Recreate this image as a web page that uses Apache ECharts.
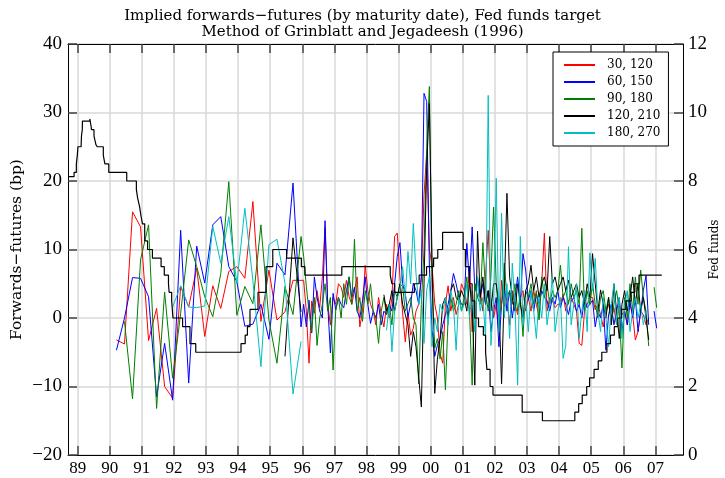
<!DOCTYPE html>
<html>
<head>
<meta charset="utf-8">
<script src="https://cdn.jsdelivr.net/npm/echarts@6/dist/echarts.min.js"></script>
<style>
html,body{margin:0;padding:0;background:#fff;overflow:hidden;}
#chart{width:725px;height:478px;}
</style>
</head>
<body>
<div id="chart"></div>
<script>
// ---------- DATA ----------
const xTickYears = [1989,1990,1991,1992,1993,1994,1995,1996,1997,1998,1999,2000,2001,2002,2003,2004,2005,2006,2007];
const xTickLabels = ['89','90','91','92','93','94','95','96','97','98','99','00','01','02','03','04','05','06','07'];
const seriesNames = ['30, 120','60, 150','90, 180','120, 210','180, 270'];

// quarterly observation dates (decimal years) 1990-1995
const qDates = [1990.21,1990.46,1990.71,1990.96,1991.21,1991.46,1991.71,1991.96,1992.21,1992.46,1992.71,1992.96,
                1993.21,1993.46,1993.71,1993.96,1994.21,1994.46,1994.71,1994.96,1995.21,1995.46,1995.71,1995.96];
// monthly observations start Jan 1996
const monthlyStartYear = 1996;

const redQ   = [-3.2,-3.8,15.5,13.3,-3.3,1.4,-10,-11.7,4.6,1.6,7.3,-2.7,4.7,1.4,6.8,7.5,5.8,17,-0.5,7,-0.3,0.9,5.5,5.5];
const redM   = [5.5,1,-6.6,2.5,0.7,4,1.5,6,13.2,2,-1,3,
                2,5,4.5,3,5.5,3.1,2,4,6,-1.3,1,7.7,
                4,2,1,-1,3,0.5,-1.3,2,0,3,11.9,12.4,
                6,0.7,-3.5,0.7,-2.5,-1.5,1,2,6,18,24,10,
                7.7,2.1,0,-5.2,-6.6,2.1,4.7,1,3,0.5,2,5,
                4,2,7.5,-2,5,3,4.1,1,6,12.8,3,0,
                2,-2,5.5,1.6,3,-1,4,2,0.5,3,4,1,
                3,1,4,2,0,5,12.4,1,3,2.5,1.5,2,
                2,3.5,1,2.5,3,2,1,-3.7,-4,1,2,3,
                3,1.2,2,0.5,-1.3,1,2,0,1.5,-1,2,0.5,
                1,-1,2,0.5,-3.2,-2,1,0.5,-1,0,null,null];

const blueQ  = [-4.7,0,5.9,5.8,3.1,-11.5,-3.7,-12,12.8,-9.5,10.5,5.1,13.6,14.8,7.5,5.3,-1.2,-0.9,2,-3.1,8,6.3,19.7,-1.3];
const blueM  = [2,-1.3,2.6,-2.2,6,3.1,1,0,14.2,2,-5.1,3.6,
                1.2,3,2,1.5,4,6,3,4.5,1,0,2.5,6,
                2,-0.8,1,0,2,-1,1,0.5,2,1,5,9,
                11,5,3.6,0.2,2,5.1,4,2,6,32.8,31.6,7.5,
                -1.8,-5.6,-4,-3,-1,0.5,2,4,6.5,5,3,2,
                2,10.9,5,13.3,4,6,3,5,2,4,-2,1,
                3,-4.2,2,5,1,4,0,3,6,2,9.4,7,
                2.6,4,1,3.5,2,4,3,2.5,1,3,2,4,
                1.5,3,2,0.5,2.5,3,1,2,0,3,1.5,2,
                2.6,-1.3,1,0,2,-4.7,0.5,2,-1,1,3,-2,
                1,-1,2.5,0,3,-2,1,4,6.2,-1,null,1,
                -1.5];

const greenQ = [null,-0.5,-11.8,8.5,13.6,-13.2,3.8,-8.8,0.7,11.4,7.5,3.1,0.2,6.5,19.9,0.4,4.6,2.1,13.6,-0.3,-6.6,4.6,0.5,11.9];
const greenM = [9,4.6,1,-2,3,-4,0,2,5,1,3,-7.6,
                1.2,3,0,5,2,6,2,11.5,1,3,-0.5,4,
                2,5,1,0,-3.7,1,3,0.5,2,-1,4,3,
                5,4.6,1,2.1,3,0,-1,-9.6,2,10,25,33.8,
                5,-4.4,-3,-6,-2,-10.5,0,3,1,2,4,1,
                3,6,1,-9.8,5,3,2,11,4,1,6,16.2,
                5,0,2,8,3,4,2,5,1,3,-2.7,4,
                3,5,2,4,-0.3,6,3,5,2,4,3,4,
                7.7,3,4,2,5,3,4,2,13.1,1,4,2,
                5,2,0,3,4,1,3,-1,2,4,1,-7.3,
                3,0,5,1,6,2,7,3,1,-4.1,null,4.5,
                1.5];

const blackQ = [null,null,null,null,null,null,null,null,null,null,null,null,
                null,null,null,null,null,null,null,null,null,-5.6,11.7,0.9];
const blackM = [null,null,null,null,null,null,null,null,null,null,null,null,
                null,null,null,null,null,null,null,null,null,null,null,null,
                null,null,null,null,null,null,3.4,1,2,4,1,3,
                5,2,0.5,-1,-5.6,-2,-4.2,-8.6,-13,5,22,31.3,
                8.5,-11,-6,-3,2,3,0,4,5,3,2.5,4,
                3,1,5,2,-9.8,12.7,3,6,2,4,1,5,
                5,2,-9.6,4,18.2,6,3,1,5,2,0,4,
                5,7.7,4,6,3,5,6,4,11.9,5,6,4,
                5,6,4,5.5,3,4,5,3,4,2,5,3,
                9.4,5,1,4.1,2,0,3,-1,5,1,-3,2,
                4,1,3,6,2,5,1,3,0,-3.2];

const cyanQ  = [null,null,null,null,null,null,null,1.6,4.7,1.6,1.5,1.75,13.4,8,14.8,5,16,5.5,-7.1,10.7,11.5,5.1,-11.1,-3.4];
const cyanM  = [null,null,null,null,null,null,null,null,null,null,null,null,
                null,null,null,null,null,null,null,null,null,null,null,null,
                null,null,null,null,null,null,null,-1.8,2,-4.9,1,3,
                4,7.5,3,9.7,5,13.8,6.5,2,4,-3.7,4.1,6,
                -4.2,0,-2,2,1,3,-1,4,2,-4.7,3,1,
                2,5,0,4,-2,6,1,3,-3,32.5,-4,2,
                20.4,-2,15.3,0,5,-3,8,2,-9.8,11.9,-1,3,
                -2,4,1,-3,3,0,5,-1,2,6,-2,1,
                3,-5.9,-4,10.4,-1,2,5,-3,1,4,-2,9.5,
                4,8.7,1,-2,3,0,-4.2,2,5,-1,3,-3,
                2,4,-2,1,3,0,2,-1,1];

// Fed funds target: change dates (decimal years) and new target level (%)
const fedDates = [1988.70,1988.89,1988.96,1988.99,1989.01,1989.11,1989.12,1989.145,1989.15,1989.38,1989.425,1989.43,
  1989.51,1989.57,1989.61,1989.80,1989.85,1989.97,1990.53,1990.83,1990.87,1990.93,1990.97,1991.02,1991.09,1991.18,
  1991.33,1991.60,1991.70,1991.83,1991.85,1991.93,1991.97,1992.27,1992.50,1992.68,1994.09,1994.22,1994.29,1994.37,
  1994.62,1994.87,1995.08,1995.51,1995.97,1996.08,1997.23,1998.74,1998.79,1998.88,1999.49,1999.64,1999.87,2000.09,
  2000.22,2000.37,2001.01,2001.08,2001.21,2001.29,2001.37,2001.49,2001.64,2001.71,2001.75,2001.85,2001.94,2002.85,
  2003.48,2004.49,2004.61,2004.72,2004.86,2004.95,2005.09,2005.22,2005.33,2005.49,2005.60,2005.72,2005.83,2005.95,
  2006.08,2006.24,2006.36,2006.49,2007.20];
const fedRates = [8.125,8.25,8.5,8.75,9,9.0625,9.3125,9.5,9.75,9.8125,9.5625,9.5,
  9.3125,9.0625,9,8.75,8.5,8.25,8,7.75,7.5,7.25,7,6.75,6.25,6,
  5.75,5.5,5.25,5,4.75,4.5,4,3.75,3.25,3,3.25,3.5,3.75,4.25,
  4.75,5.5,6,5.75,5.5,5.25,5.5,5.25,5,4.75,5,5.25,5.5,5.75,
  6,6.5,6,5.5,5,4.5,4,3.75,3.5,3,2.5,2,1.75,1.25,
  1,1.25,1.5,1.75,2,2.25,2.5,2.75,3,3.25,3.5,3.75,4,4.25,
  4.5,4.75,5,5.25,5.25];

const colors = ['#ff0000','#0000ff','#008000','#000000','#00bfbf'];

// ---------- BUILD ----------
function buildPairs(q, m) {
  const out = [];
  q.forEach((v, i) => out.push([qDates[i], v == null ? '-' : v]));
  m.forEach((v, i) => out.push([monthlyStartYear + (i + 0.5) / 12, v == null ? '-' : v]));
  return out;
}
const allQ = [redQ, blueQ, greenQ, blackQ, cyanQ];
const allM = [redM, blueM, greenM, blackM, cyanM];

const FONT = 'DejaVu Serif';
const NUMFONT = 'Liberation Serif';
const chart = echarts.init(document.getElementById('chart'), null, {renderer: 'canvas', width: 725, height: 478});

const lineSeries = seriesNames.map((name, i) => ({
  name: name,
  type: 'line',
  xAxisIndex: 0,
  yAxisIndex: 0,
  data: buildPairs(allQ[i], allM[i]),
  showSymbol: false,
  symbol: 'none',
  connectNulls: false,
  lineStyle: {color: colors[i], width: 1},
  itemStyle: {color: colors[i]},
  animation: false,
  z: 3
}));

const fedSeries = {
  name: 'Fed funds target',
  type: 'line',
  xAxisIndex: 0,
  yAxisIndex: 1,
  step: 'end',
  data: fedDates.map((d, i) => [d, fedRates[i]]),
  showSymbol: false,
  symbol: 'none',
  lineStyle: {color: '#000', width: 1.2},
  itemStyle: {color: '#000'},
  animation: false,
  z: 4
};

const xMin = 1988.7, xMax = 2007.86;

const option = {
  backgroundColor: '#fff',
  animation: false,
  title: {
    text: 'Implied forwards\u2212futures (by maturity date), Fed funds target\nMethod of Grinblatt and Jegadeesh (1996)',
    left: 'center',
    top: 3,
    textStyle: {fontFamily: FONT, fontSize: 15, fontWeight: 'normal', color: '#000', lineHeight: 16}
  },
  legend: {
    data: seriesNames,
    orient: 'vertical',
    left: 553,
    top: 52,
    padding: [6, 8, 6, 11],
    itemGap: 3,
    itemWidth: 31,
    itemHeight: 2,
    icon: 'rect',
    backgroundColor: '#fff',
    borderColor: '#000',
    borderWidth: 1,
    borderRadius: 0,
    textStyle: {fontFamily: FONT, fontSize: 12, color: '#000', lineHeight: 14, padding: [0,0,0,7]}
  },
  grid: {left: 68, right: 42, top: 44, bottom: 23, containLabel: false, outerBoundsMode: 'none'},
  xAxis: [
    {
      type: 'value', position: 'bottom', min: xMin, max: xMax,
      axisLine: {show: true, onZero: false, lineStyle: {color: '#000', width: 1}},
      axisTick: {show: true, inside: true, length: 9, customValues: xTickYears, lineStyle: {color: '#444', width: 1.5}},
      axisLabel: {show: true, customValues: xTickYears, margin: 5, fontFamily: NUMFONT, fontSize: 17, color: '#000',
        formatter: v => xTickLabels[xTickYears.indexOf(Math.round(v))]},
      splitLine: {show: true, lineStyle: {color: '#d9d9d9', width: 1.5}}
    },
    {
      type: 'value', position: 'top', min: xMin, max: xMax,
      axisLine: {show: true, onZero: false, lineStyle: {color: '#000', width: 1}},
      axisTick: {show: true, inside: true, length: 9, customValues: xTickYears, lineStyle: {color: '#444', width: 1.5}},
      axisLabel: {show: false},
      splitLine: {show: false}
    }
  ],
  yAxis: [
    {
      type: 'value', position: 'left', min: -20, max: 40, interval: 10,
      name: 'Forwards\u2212futures (bp)', nameLocation: 'middle', nameGap: 43, nameRotate: 90,
      nameMoveOverlap: false,
      nameTextStyle: {fontFamily: FONT, fontSize: 15.5, color: '#000'},
      axisLine: {show: true, onZero: false, lineStyle: {color: '#000', width: 1}},
      axisTick: {show: true, inside: true, length: 9, lineStyle: {color: '#444', width: 1.5}},
      axisLabel: {margin: 6, fontFamily: NUMFONT, fontSize: 19, color: '#000',
        formatter: v => String(v).replace('-', '\u2212')},
      splitLine: {show: true, lineStyle: {color: '#d9d9d9', width: 1.5}}
    },
    {
      type: 'value', position: 'right', min: 0, max: 12, interval: 2,
      name: 'Fed funds', nameLocation: 'middle', nameGap: 26, nameRotate: 90,
      nameMoveOverlap: false,
      nameTextStyle: {fontFamily: FONT, fontSize: 12, color: '#000'},
      axisLine: {show: true, onZero: false, lineStyle: {color: '#000', width: 1}},
      axisTick: {show: true, inside: true, length: 9, lineStyle: {color: '#444', width: 1.5}},
      axisLabel: {margin: 5, fontFamily: NUMFONT, fontSize: 19, color: '#000'},
      splitLine: {show: false}
    }
  ],
  series: lineSeries.concat([fedSeries])
};
chart.setOption(option);
</script>
</body>
</html>
